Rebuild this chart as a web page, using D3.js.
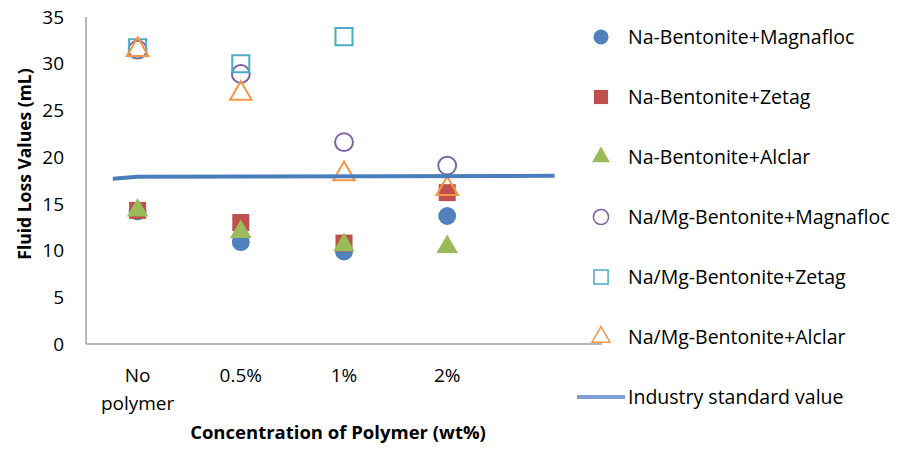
<!DOCTYPE html>
<html>
<head>
<meta charset="utf-8">
<script src="https://cdn.jsdelivr.net/npm/d3@7"></script>
<style>
  body { margin: 0; background: #fff; }
  text { font-family: "Open Sans", Lato, sans-serif; fill: #000; }
</style>
</head>
<body>
<svg width="906" height="450"></svg>
<script>
var categories = ["No polymer", "0.5%", "1%", "2%"];

var naMagnafloc = [14.2, 10.9, 9.9, 13.7];
var naZetag = [14.3, 13.0, 10.8, 16.2];
var naAlclar = [14.3, 12.0, 10.6, 10.4];
var mgMagnafloc = [31.5, 28.9, 21.6, 19.1];
var mgZetag = [31.7, 30.0, 32.9, null];
var mgAlclar = [31.5, 26.8, 18.2, 16.6];

var industryX = [0.76, 1.0, 5.04];
var industryY = [17.7, 17.9, 18.0];

var yTicks = [0, 5, 10, 15, 20, 25, 30, 35];

var series = [
  { name: "Na-Bentonite+Magnafloc", values: naMagnafloc, shape: d3.symbolCircle, color: "#4f81bd", filled: true },
  { name: "Na-Bentonite+Zetag", values: naZetag, shape: d3.symbolSquare, color: "#c0504d", filled: true },
  { name: "Na-Bentonite+Alclar", values: naAlclar, shape: d3.symbolTriangle, color: "#9bbb59", filled: true },
  { name: "Na/Mg-Bentonite+Magnafloc", values: mgMagnafloc, shape: d3.symbolCircle, color: "#8064a2", filled: false },
  { name: "Na/Mg-Bentonite+Zetag", values: mgZetag, shape: d3.symbolSquare, color: "#4bacc6", filled: false },
  { name: "Na/Mg-Bentonite+Alclar", values: mgAlclar, shape: d3.symbolTriangle, color: "#f79646", filled: false }
];

var svg = d3.select("svg");
var plotLeft = 86, plotRight = 602, plotTop = 17, plotBottom = 344;

// categories sit at 1..4 on a numeric axis
var x = d3.scaleLinear().domain([0.5, 5.5]).range([plotLeft, plotRight]);
var y = d3.scaleLinear().domain([0, 35]).range([plotBottom, plotTop]);

// axes
svg.append("line")
  .attr("x1", plotLeft).attr("x2", plotLeft).attr("y1", y(35)).attr("y2", y(0))
  .attr("stroke", "#a0a0a0").attr("stroke-width", 1.5);
svg.append("line")
  .attr("x1", plotLeft).attr("x2", plotRight).attr("y1", y(0)).attr("y2", y(0))
  .attr("stroke", "#a0a0a0").attr("stroke-width", 1.5);

svg.append("g").selectAll("text")
  .data(yTicks)
  .enter().append("text")
  .attr("x", 64).attr("y", function (d) { return y(d); })
  .attr("dy", "0.35em")
  .attr("text-anchor", "end")
  .style("font-size", "19px")
  .text(function (d) { return d; });

var xl = svg.append("g").selectAll("text")
  .data(categories)
  .enter().append("text")
  .attr("x", function (d, i) { return x(i + 1); })
  .attr("y", 382)
  .attr("text-anchor", "middle")
  .style("font-size", "19px");
xl.each(function (d) {
  var parts = d.split(" ");
  var t = d3.select(this);
  parts.forEach(function (p, j) {
    t.append("tspan").attr("x", t.attr("x")).attr("dy", j ? 28 : 0).text(p);
  });
});

svg.append("text")
  .attr("transform", "translate(31,164) rotate(-90)")
  .attr("text-anchor", "middle")
  .style("font-size", "17.5px").style("font-weight", "bold")
  .text("Fluid Loss Values (mL)");

svg.append("text")
  .attr("x", 338).attr("y", 439)
  .attr("text-anchor", "middle")
  .style("font-size", "18.5px").style("font-weight", "bold")
  .text("Concentration of Polymer (wt%)");

function symSize(shape, big) {
  if (shape === d3.symbolCircle) return big ? 250 : 180;
  if (shape === d3.symbolSquare) return big ? 290 : 200;
  return big ? 200 : 140;
}

// markers
series.forEach(function (s) {
  svg.append("g").selectAll("path")
    .data(s.values.map(function (v, i) { return { i: i, v: v }; }).filter(function (d) { return d.v != null; }))
    .enter().append("path")
    .attr("transform", function (d) { return "translate(" + x(d.i + 1) + "," + y(d.v) + ")"; })
    .attr("d", d3.symbol().type(s.shape).size(symSize(s.shape, true)))
    .attr("fill", s.filled ? s.color : "none")
    .attr("stroke", s.color)
    .attr("stroke-width", s.filled ? 0 : 2);
});

// industry standard line
var line = d3.line()
  .x(function (d) { return x(d[0]); })
  .y(function (d) { return y(d[1]); });
svg.append("path")
  .datum(d3.zip(industryX, industryY))
  .attr("d", line)
  .attr("fill", "none")
  .attr("stroke", "#4a7ebb")
  .attr("stroke-width", 4);

// legend
var legend = svg.append("g");
var rows = legend.selectAll("g")
  .data(series)
  .enter().append("g")
  .attr("transform", function (d, i) { return "translate(601," + (37 + i * 60) + ")"; });
rows.append("path")
  .attr("d", function (d) { return d3.symbol().type(d.shape).size(symSize(d.shape, false))(); })
  .attr("fill", function (d) { return d.filled ? d.color : "#fff"; })
  .attr("stroke", function (d) { return d.color; })
  .attr("stroke-width", function (d) { return d.filled ? 0 : 1.5; });
rows.append("text")
  .attr("x", 27).attr("dy", "0.35em")
  .style("font-size", "19.5px")
  .text(function (d) { return d.name; });

var lg = legend.append("g").attr("transform", "translate(601,397)");
lg.append("line").attr("x1", -24).attr("x2", 24)
  .attr("stroke", "#7f9fd3").attr("stroke-width", 4);
lg.append("text").attr("x", 27).attr("dy", "0.35em")
  .style("font-size", "19.5px")
  .text("Industry standard value");
</script>
</body>
</html>
